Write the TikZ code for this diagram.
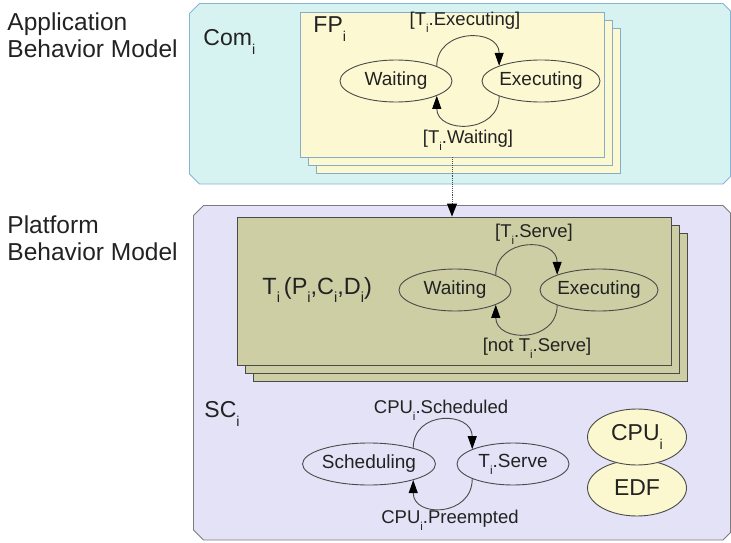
\documentclass[tikz,border=0pt]{standalone}
\usepackage{fontspec}
\setmainfont{Liberation Sans}
\usetikzlibrary{arrows.meta,shapes.geometric}

\definecolor{comfill}{HTML}{D7F3F1}
\definecolor{comline}{HTML}{86B4D6}
\definecolor{fpfill}{HTML}{FCF9D2}
\definecolor{fpline}{HTML}{86ABCB}
\definecolor{platfill}{HTML}{E4E2F6}
\definecolor{platline}{HTML}{7C7C7C}
\definecolor{taskfill}{HTML}{CDCEA4}
\definecolor{cpufill}{HTML}{FBF7CE}
\definecolor{inkgray}{HTML}{222222}
\definecolor{edgegray}{HTML}{4A4A4A}

\newcommand{\subi}{\raisebox{-0.36em}{\scalebox{0.62}{i}}}

\begin{document}
\begin{tikzpicture}[x=1pt,y=-1pt,line width=0.9pt,
    every node/.style={inner sep=0pt,text=inkgray,font=\fontsize{18.5}{21}\selectfont},
    state/.style={ellipse,draw=edgegray,minimum width=112pt,minimum height=42pt,font=\fontsize{19}{22}\selectfont},
    fpbox/.style={rectangle,draw=fpline,fill=fpfill,minimum width=304pt,minimum height=145pt},
    taskbox/.style={rectangle,draw=edgegray,fill=taskfill,minimum width=434pt,minimum height=148pt},
    trans/.style={draw=edgegray,-{Triangle[length=13pt,width=9pt,color=black]}},
    big/.style={font=\fontsize{23}{26}\selectfont}]

        \useasboundingbox (0,0) rectangle (731,543);

        \node[anchor=north west,align=left,font=\fontsize{24.5}{27}\selectfont] (app) at (7,12) {Application\\Behavior Model};
        \node[anchor=north west,align=left,font=\fontsize{24.5}{27}\selectfont] (plat) at (7,215) {Platform\\Behavior Model};


        \draw[fill=comfill,draw=comline] (199.5,3.5) -- (723,3.5) -- (730.5,11) -- (730.5,176.5) -- (723,184) -- (199.5,184) -- (189.5,174) -- (189.5,13.5) -- cycle;

        \node[fpbox] (FP3) at (468,100.5) {};
        \node[fpbox] (FP2) at (460,92.5) {};
        \node[fpbox] (FP1) at (452,84.5) {};

        \node[big,anchor=west] (com) at (203,42) {Com\subi};
        \node[big,anchor=west] (fpname) at (313,29) {FP\subi};

        \node[state,fill=fpfill] (W1) at (396,81) {Waiting};
        \node[state,fill=fpfill] (E1) at (541,81) {Executing};
        \node (L1) at (465,22) {[T\subi.Executing]};
        \node (L2) at (468,140) {[T\subi.Waiting]};

        \draw[trans] (W1.20) .. controls +(0,-38) and +(0,-38) .. (E1.160);
        \draw[trans] (E1.-160) .. controls +(0,38) and +(0,38) .. (W1.-20);


        \draw[fill=platfill,draw=platline] (203.5,205.5) -- (723,205.5) -- (730.5,213) -- (730.5,532.5) -- (723,540) -- (203.5,540) -- (193.5,530) -- (193.5,215.5) -- cycle;

        \node[taskbox] (T3) at (470,307) {};
        \node[taskbox] (T2) at (462,299) {};
        \node[taskbox] (T1) at (454,291) {};

        \node[font=\fontsize{23.5}{28}\selectfont,anchor=west] (task) at (262,290) {T\subi\,(P\subi,C\subi,D\subi)};

        \node[state,fill=taskfill] (W2) at (455,290) {Waiting};
        \node[state,fill=taskfill] (E2) at (599,290) {Executing};
        \node (L3) at (534,234) {[T\subi.Serve]};
        \node (L4) at (537,348) {[not T\subi.Serve]};

        \draw[trans] (W2.20) .. controls +(0,-38) and +(0,-38) .. (E2.160);
        \draw[trans] (E2.-160) .. controls +(0,38) and +(0,38) .. (W2.-20);


        \node[big,anchor=west] (sc) at (204,414) {SC\subi};

        \node[state,fill=platfill] (S3) at (369,464) {Scheduling};
        \node[state,fill=platfill] (R3) at (513,464) {T\subi.Serve};
        \node (L5) at (441,410) {CPU\subi.Scheduled};
        \node (L6) at (450,520) {CPU\subi.Preempted};

        \draw[trans] (S3.20) .. controls +(0,-38) and +(0,-38) .. (R3.160);
        \draw[trans] (R3.-160) .. controls +(0,38) and +(0,38) .. (S3.-20);

        \node[ellipse,draw=edgegray,fill=cpufill,minimum width=99pt,minimum height=56pt,big] (EDF) at (637,488) {EDF};
        \node[ellipse,draw=edgegray,fill=cpufill,minimum width=99pt,minimum height=56pt,big] (CPU) at (637,437) {CPU\subi};


        \draw[densely dotted,draw=edgegray,-{Triangle[length=13pt,width=10pt,color=black]}] (FP1.south) -- (FP1.south |- T1.north);
    \end{tikzpicture}
\end{document}
